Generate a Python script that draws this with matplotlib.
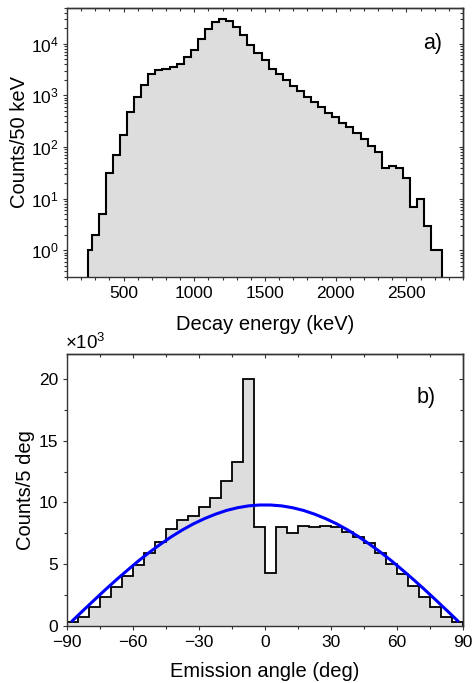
import numpy as np
import matplotlib
matplotlib.use("Agg")
from matplotlib import pyplot as plt
from matplotlib.ticker import MultipleLocator, NullFormatter

plt.rcParams['font.family'] = ['Liberation Sans', 'DejaVu Sans']
plt.rcParams['mathtext.fontset'] = 'custom'
plt.rcParams['mathtext.rm'] = 'Liberation Sans'
plt.rcParams['mathtext.it'] = 'Liberation Sans:italic'
plt.rcParams['mathtext.bf'] = 'Liberation Sans:bold'

# a) decay energy spectrum, 50 keV bins (first and last bin are partial)
energy_edges = [250, 275] + list(range(325, 2676, 50)) + [2750]
energy_counts = [1, 2, 5, 31, 70, 170, 480, 910, 1570, 2640,
                 3060, 3300, 3550, 4110, 5500, 7650, 12500, 19500, 26100, 29500,
                 27300, 20900, 14500, 9560, 6700, 4760, 3300, 2640, 1960, 1500,
                 1220, 935, 748, 583, 447, 374, 295, 247, 189, 141,
                 104, 81, 39, 42, 40, 25, 7, 10, 3, 1]

# b) emission angle distribution, 5 deg bins, in thousands
angle_edges = list(range(-90, 91, 5))
angle_counts = [0.35, 0.7, 1.57, 2.38, 3.19, 4.05, 4.94, 5.89, 6.83, 7.83,
                8.54, 8.86, 9.59, 10.35, 11.75, 13.23, 20.0, 8.05,
                4.32, 8.0, 7.56, 8.1, 7.97, 8.1, 8.05, 7.64, 7.24, 6.7,
                5.89, 5.02, 4.19, 3.24, 2.38, 1.57, 0.7, 0.35]

# fitted curve (thousands)
fit_angle = [-87.5, -82.5, -77.5, -72.5, -67.5, -62.5, -57.5, -52.5, -47.5,
             -42.5, -37.5, -32.5, -27.5, -22.5, -17.5, -12.5, -7.5, -2.5,
             2.5, 7.5, 12.5, 17.5, 22.5, 27.5, 32.5, 37.5, 42.5, 47.5,
             52.5, 57.5, 62.5, 67.5, 72.5, 77.5, 82.5, 87.5]
fit_counts = [0.43, 1.28, 2.12, 2.95, 3.75, 4.52, 5.27, 5.97, 6.62,
              7.23, 7.78, 8.27, 8.69, 9.05, 9.35, 9.57, 9.72, 9.79,
              9.79, 9.72, 9.57, 9.35, 9.05, 8.69, 8.27, 7.78, 7.23, 6.62,
              5.97, 5.27, 4.52, 3.75, 2.95, 2.12, 1.28, 0.43]

FILL = '#dddddd'
SPINE = '#333333'
TICK_FS = 12.5
LABEL_FS = 14.5

fig = plt.figure(figsize=(4.76, 6.83), dpi=100)
ax1 = fig.add_axes([0.1408, 0.594, 0.832, 0.395])
ax2 = fig.add_axes([0.1408, 0.0835, 0.832, 0.398])


def style(ax):
    for s in ax.spines.values():
        s.set_color(SPINE)
        s.set_linewidth(1.0)
    ax.tick_params(which='both', direction='out', color=SPINE, labelsize=TICK_FS,
                   width=0.8, pad=3)
    ax.tick_params(which='major', length=3.2)
    ax.tick_params(which='minor', length=2)


def mirror(ax):
    top = ax.secondary_xaxis('top')
    right = ax.secondary_yaxis('right')
    for sec in (top, right):
        sec.tick_params(which='both', direction='in', color=SPINE, width=0.8)
        sec.tick_params(which='major', length=3.2)
        sec.tick_params(which='minor', length=2)
        for s in sec.spines.values():
            s.set_color(SPINE)
            s.set_linewidth(1.0)
    return top, right


# --- a) ---
ax1.set_yscale('log')
ax1.stairs(energy_counts, energy_edges, baseline=1e-3, fill=True, color=FILL, zorder=1)
ax1.stairs(energy_counts, energy_edges, baseline=1e-3, color='black', lw=1.5, zorder=2)
ax1.set_xlim(100, 2900)
ax1.set_ylim(0.3, 5e4)
ax1.xaxis.set_major_locator(MultipleLocator(500))
ax1.xaxis.set_minor_locator(MultipleLocator(100))
style(ax1)
top, right = mirror(ax1)
top.xaxis.set_major_locator(MultipleLocator(500))
top.xaxis.set_minor_locator(MultipleLocator(100))
top.xaxis.set_major_formatter(NullFormatter())
right.yaxis.set_major_formatter(NullFormatter())
right.yaxis.set_minor_formatter(NullFormatter())
ax1.set_xlabel('Decay energy (keV)', fontsize=LABEL_FS, labelpad=10)
ax1.set_ylabel('Counts/50 keV', fontsize=LABEL_FS, labelpad=1)
ax1.text(0.922, 0.865, 'a)', transform=ax1.transAxes, fontsize=15.5,
         ha='center', va='center')

# --- b) ---
ax2.stairs(angle_counts, angle_edges, baseline=0, fill=True, color=FILL, zorder=1)
ax2.stairs(angle_counts, angle_edges, baseline=0, color='black', lw=1.3, zorder=2)
ax2.plot(fit_angle, fit_counts, color='#0000ff', lw=2.2, zorder=3)
ax2.set_xlim(-90, 90)
ax2.set_ylim(0, 22)
ax2.xaxis.set_major_locator(MultipleLocator(30))
ax2.xaxis.set_minor_locator(MultipleLocator(15))
ax2.yaxis.set_major_locator(MultipleLocator(5))
ax2.yaxis.set_minor_locator(MultipleLocator(2.5))
style(ax2)
top2, right2 = mirror(ax2)
top2.xaxis.set_major_locator(MultipleLocator(30))
top2.xaxis.set_minor_locator(MultipleLocator(15))
top2.xaxis.set_major_formatter(NullFormatter())
right2.yaxis.set_major_locator(MultipleLocator(5))
right2.yaxis.set_minor_locator(MultipleLocator(2.5))
right2.yaxis.set_major_formatter(NullFormatter())
ax2.set_xlabel('Emission angle (deg)', fontsize=LABEL_FS, labelpad=9)
ax2.set_ylabel('Counts/5 deg', fontsize=LABEL_FS, labelpad=3)
ax2.text(-0.005, 1.005, '×10$^3$', transform=ax2.transAxes, fontsize=13.5,
         ha='left', va='bottom')
ax2.text(0.908, 0.84, 'b)', transform=ax2.transAxes, fontsize=15.5,
         ha='center', va='center')

fig.savefig('out.png', dpi=100)
